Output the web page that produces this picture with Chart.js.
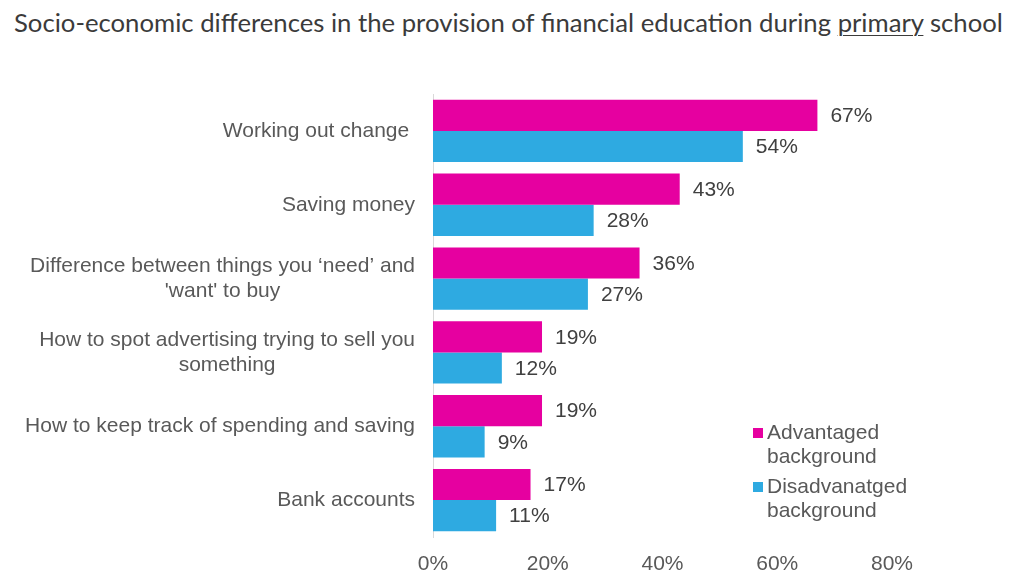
<!DOCTYPE html>
<html>
<head>
<meta charset="utf-8">
<script src="https://cdn.jsdelivr.net/npm/chart.js@4"></script>
<style>
  html, body { margin: 0; padding: 0; background: #fff; }
  #wrap { position: relative; width: 1023px; height: 583px; }
  #title {
    position: absolute; left: 14px; top: 6px;
    font: 25.7px Lato, 'Open Sans', sans-serif; line-height: 32px;
    color: #3b3b3b; white-space: nowrap;
  }
  #title u { text-underline-offset: 3px; text-decoration-thickness: 1px; }
  canvas { position: absolute; left: 0; top: 0; }
</style>
</head>
<body>
<div id="wrap">
  <div id="title">Socio-economic differences in the provision of financial education during <u>primary</u> school</div>
  <canvas id="chart" width="1023" height="583"></canvas>
</div>
<script>
// dane
const categories = [
  ['Working out change '],
  ['Saving money'],
  ['Difference between things you ‘need’ and', "'want' to buy"],
  ['How to spot advertising trying to sell you', 'something'],
  ['How to keep track of spending and saving'],
  ['Bank accounts']
]
const advantaged    = [67, 43, 36, 19, 19, 17]
const disadvantaged = [54, 28, 27, 12, 9, 11]
const seriesNames   = [['Advantaged', 'background'], ['Disadvanatged', 'background']]
const xTicks        = [0, 20, 40, 60, 80]

const PINK = '#e600a0'
const BLUE = '#2eaae1'
const TEXT = '#595959'
const FAMILY = "'Liberation Sans', Arial, sans-serif"
const FONT = '21px ' + FAMILY

// etykiety kategorii: linie wyśrodkowane, blok dosunięty do osi
const catLabels = {
  id: 'catLabels',
  afterDraw (chart) {
    const { ctx, chartArea } = chart
    const y = chart.scales.y
    ctx.save()
    ctx.font = FONT
    ctx.fillStyle = TEXT
    ctx.textAlign = 'center'
    ctx.textBaseline = 'middle'
    const right = chartArea.left - 18
    const lh = 25
    categories.forEach((lines, i) => {
      const cy = y.getPixelForValue(i)
      const w = Math.max(...lines.map(l => ctx.measureText(l).width))
      const cx = right - w / 2
      lines.forEach((l, j) => {
        ctx.fillText(l, cx, cy + (j - (lines.length - 1) / 2) * lh)
      })
    })
    ctx.restore()
  }
}

// wartości przy słupkach
const valueLabels = {
  id: 'valueLabels',
  afterDatasetsDraw (chart) {
    const { ctx } = chart
    ctx.save()
    ctx.font = FONT
    ctx.fillStyle = '#404040'
    ctx.textAlign = 'left'
    ctx.textBaseline = 'middle'
    chart.data.datasets.forEach((ds, di) => {
      chart.getDatasetMeta(di).data.forEach((bar, i) => {
        ctx.fillText(ds.data[i] + '%', bar.x + 13, bar.y + 1)
      })
    })
    ctx.restore()
  }
}

// legenda w prawym dolnym rogu
const sideLegend = {
  id: 'sideLegend',
  afterDraw (chart, args, opts) {
    const { ctx } = chart
    ctx.save()
    ctx.font = FONT
    ctx.fillStyle = TEXT
    ctx.textBaseline = 'middle'
    let y = opts.y
    chart.data.datasets.forEach(ds => {
      ctx.fillStyle = ds.backgroundColor
      ctx.fillRect(opts.x, y - 5, 10, 10)
      ctx.fillStyle = TEXT
      ds.label.forEach((l, j) => ctx.fillText(l, opts.x + 14, y + j * 24))
      y += 54
    })
    ctx.restore()
  }
}

new Chart(document.getElementById('chart'), {
  type: 'bar',
  data: {
    labels: categories,
    datasets: [
      { label: seriesNames[0], data: advantaged, backgroundColor: PINK },
      { label: seriesNames[1], data: disadvantaged, backgroundColor: BLUE }
    ]
  },
  options: {
    indexAxis: 'y',
    responsive: false,
    animation: false,
    events: [],
    datasets: { bar: { categoryPercentage: 0.845, barPercentage: 1 } },
    layout: { padding: { top: 94, right: 131, bottom: 0, left: 0 } },
    scales: {
      x: {
        min: 0, max: 80,
        afterBuildTicks: s => { s.ticks = xTicks.map(v => ({ value: v })) },
        afterFit: s => { s.height = 46 },
        grid: { display: false, drawTicks: false },
        border: { display: false },
        ticks: {
          padding: 15,
          color: TEXT,
          font: { family: FAMILY, size: 21, lineHeight: 1.2 },
          callback: v => v + '%'
        }
      },
      y: {
        afterFit: s => { s.width = 433 },
        grid: { display: false, drawTicks: false },
        border: { display: true, color: '#d9d9d9', width: 1 },
        ticks: { display: false }
      }
    },
    plugins: {
      legend: { display: false },
      tooltip: { enabled: false },
      sideLegend: { x: 753, y: 433 }
    }
  },
  plugins: [catLabels, valueLabels, sideLegend]
})
</script>
</body>
</html>
